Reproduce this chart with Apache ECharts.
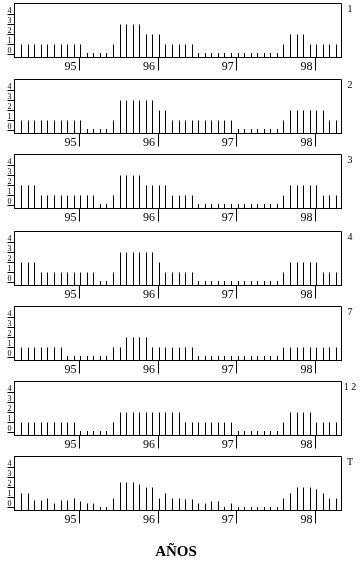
<!DOCTYPE html>
<html>
<head>
<meta charset="utf-8">
<script src="https://cdn.jsdelivr.net/npm/echarts@6/dist/echarts.min.js"></script>
<style>html,body{margin:0;padding:0;background:#fff;overflow:hidden;}#c{width:362px;height:562px;}</style>
</head>
<body>
<div id="c"></div>
<script>
// Month index 0 = first bar ... 48 = last bar; years start at YEAR_INDEX
var YEAR_LABELS = ['95', '96', '97', '98'];
var YEAR_INDEX = [9, 21, 33, 45];
var Y_TICKS = [0, 1, 2, 3, 4];
var PANEL_LABELS = ['1', '2', '3', '4', '7', '1 2', 'T'];

var P1 = [1,1,1,1,1,1,1,1,1,1, 0.15,0.15,0.15,0.15, 1, 3,3,3,3, 2,2,2, 1,1,1,1,1,
  0.15,0.15,0.15,0.15,0.15,0.15,0.15,0.15,0.15,0.15,0.15,0.15,0.15, 1, 2,2,2, 1,1,1,1,1];
var P2 = [1,1,1,1,1,1,1,1,1,1, 0.15,0.15,0.15,0.15, 1, 3,3,3,3,3,3, 2,2, 1,1,1,1,1,1,1,1,1,1,
  0.15,0.15,0.15,0.15,0.15,0.15,0.15, 1, 2,2,2,2,2,2, 1,1];
var P3 = [2,2,2, 1,1,1,1,1,1,1,1,1, 0.15,0.15, 1, 3,3,3,3, 2,2,2,2, 1,1,1,1,
  0.15,0.15,0.15,0.15,0.15,0.15,0.15,0.15,0.15,0.15,0.15,0.15,0.15, 1, 2,2,2,2,2, 1,1,1];
var P4 = [2,2,2, 1,1,1,1,1,1,1,1,1, 0.15,0.15, 1, 3,3,3,3,3,3, 2, 1,1,1,1,1,
  0.15,0.15,0.15,0.15,0.15,0.15,0.15,0.15,0.15,0.15,0.15,0.15,0.15, 1, 2,2,2,2,2, 1,1,1];
var P7 = [1,1,1,1,1,1,1, 0.15,0.15,0.15,0.15,0.15,0.15,0.15, 1,1, 2,2,2,2, 1,1,1,1,1,1,1,
  0.15,0.15,0.15,0.15,0.15,0.15,0.15,0.15,0.15,0.15,0.15,0.15,0.15, 1,1,1,1,1,1,1,1,1];
var P12 = [1,1,1,1,1,1,1,1,1, 0.15,0.15,0.15,0.15,0.15, 1, 2,2,2,2,2,2,2,2,2,2, 1,1,1,1,1,1,1,1,
  0.15,0.15,0.15,0.15,0.15,0.15,0.15, 1, 2,2,2,2, 1,1,1,1];
var PT = [1.4,1.4,0.7,0.7,0.9,0.4,0.7,0.7,0.9,0.6,
  0.4,0.4,0.05,0.05,0.9,2.5,2.5,2.5,2.3,2.0,
  2.0,0.9,1.4,0.9,0.9,0.8,0.8,0.4,0.4,0.6,
  0.6,0.05,0.4,0.05,0.05,0.05,0.05,0.05,0.05,0.05,
  0.9,1.4,2.0,2.0,2.0,1.8,1.4,0.9,0.9];

var PANELS = [P1, P2, P3, P4, P7, P12, PT];

// layout
var TOPS = [3.5, 79.5, 154.5, 231.5, 306.5, 381.5, 456.5];
var GRID_H = 54;
var Y_MIN = -0.3, Y_MAX = 5.1;
var X_MIN = -1.02, X_MAX = 48.86;
var TICK_SHIFT = -0.12;
var FONT = 'Liberation Serif';

var yearPos = YEAR_INDEX.map(function (v) { return v + TICK_SHIFT; });

function yearLabel(val) {
  var best = 0, bd = Infinity;
  for (var i = 0; i < YEAR_INDEX.length; i++) {
    var d = Math.abs(YEAR_INDEX[i] + TICK_SHIFT - val);
    if (d < bd) { bd = d; best = i; }
  }
  return YEAR_LABELS[best];
}

var grids = [], xAxes = [], yAxes = [], series = [], graphics = [];
PANELS.forEach(function (arr, k) {
  grids.push({ left: 14.5, width: 327, top: TOPS[k], height: GRID_H, show: true,
    borderColor: '#000', borderWidth: 1, backgroundColor: 'transparent', containLabel: false });
  xAxes.push({
    type: 'value', gridIndex: k, min: X_MIN, max: X_MAX,
    splitLine: { show: false },
    axisLine: { show: true, onZero: false, lineStyle: { color: '#000', width: 1 } },
    axisTick: { show: true, customValues: yearPos, length: 13, lineStyle: { color: '#000', width: 1 } },
    axisLabel: { show: true, customValues: yearPos, formatter: yearLabel, align: 'right',
      padding: [0, 3, 0, 0], margin: 3, fontFamily: FONT, fontSize: 12, color: '#000' }
  });
  yAxes.push({
    type: 'value', gridIndex: k, min: Y_MIN, max: Y_MAX,
    splitLine: { show: false },
    axisLine: { show: true, onZero: false, lineStyle: { color: '#000', width: 1 } },
    axisTick: { show: true, customValues: Y_TICKS, length: 7, lineStyle: { color: '#000', width: 1 } },
    axisLabel: { show: true, customValues: Y_TICKS, verticalAlign: 'bottom', margin: 3,
      fontFamily: FONT, fontSize: 8, color: '#000', lineHeight: 8 }
  });
  series.push({
    type: 'custom', xAxisIndex: k, yAxisIndex: k,
    data: arr.map(function (v, i) { return [i, v]; }),
    renderItem: function (params, api) {
      var x = api.value(0), v = api.value(1);
      var p0 = api.coord([x, Y_MIN]);
      var p1 = api.coord([x, v]);
      var px = Math.round(p0[0]) + 0.5;
      return { type: 'line', shape: { x1: px, y1: p0[1], x2: px, y2: p1[1] },
        style: { stroke: '#000', lineWidth: 1 } };
    }
  });
  graphics.push({ type: 'text', x: 350, y: TOPS[k] + 6,
    style: { text: PANEL_LABELS[k], align: 'center', verticalAlign: 'middle', fontFamily: FONT, fontSize: 10, fill: '#000' } });
});

graphics.push({ type: 'text', x: 176, y: 552,
  style: { text: 'AÑOS', align: 'center', verticalAlign: 'middle', fontFamily: FONT,
    fontSize: 15, fontWeight: 'bold', fill: '#000' } });

var chart = echarts.init(document.getElementById('c'), null, { renderer: 'canvas' });
chart.setOption({
  animation: false,
  backgroundColor: '#fff',
  grid: grids, xAxis: xAxes, yAxis: yAxes, series: series,
  graphic: graphics
});
</script>
</body>
</html>
